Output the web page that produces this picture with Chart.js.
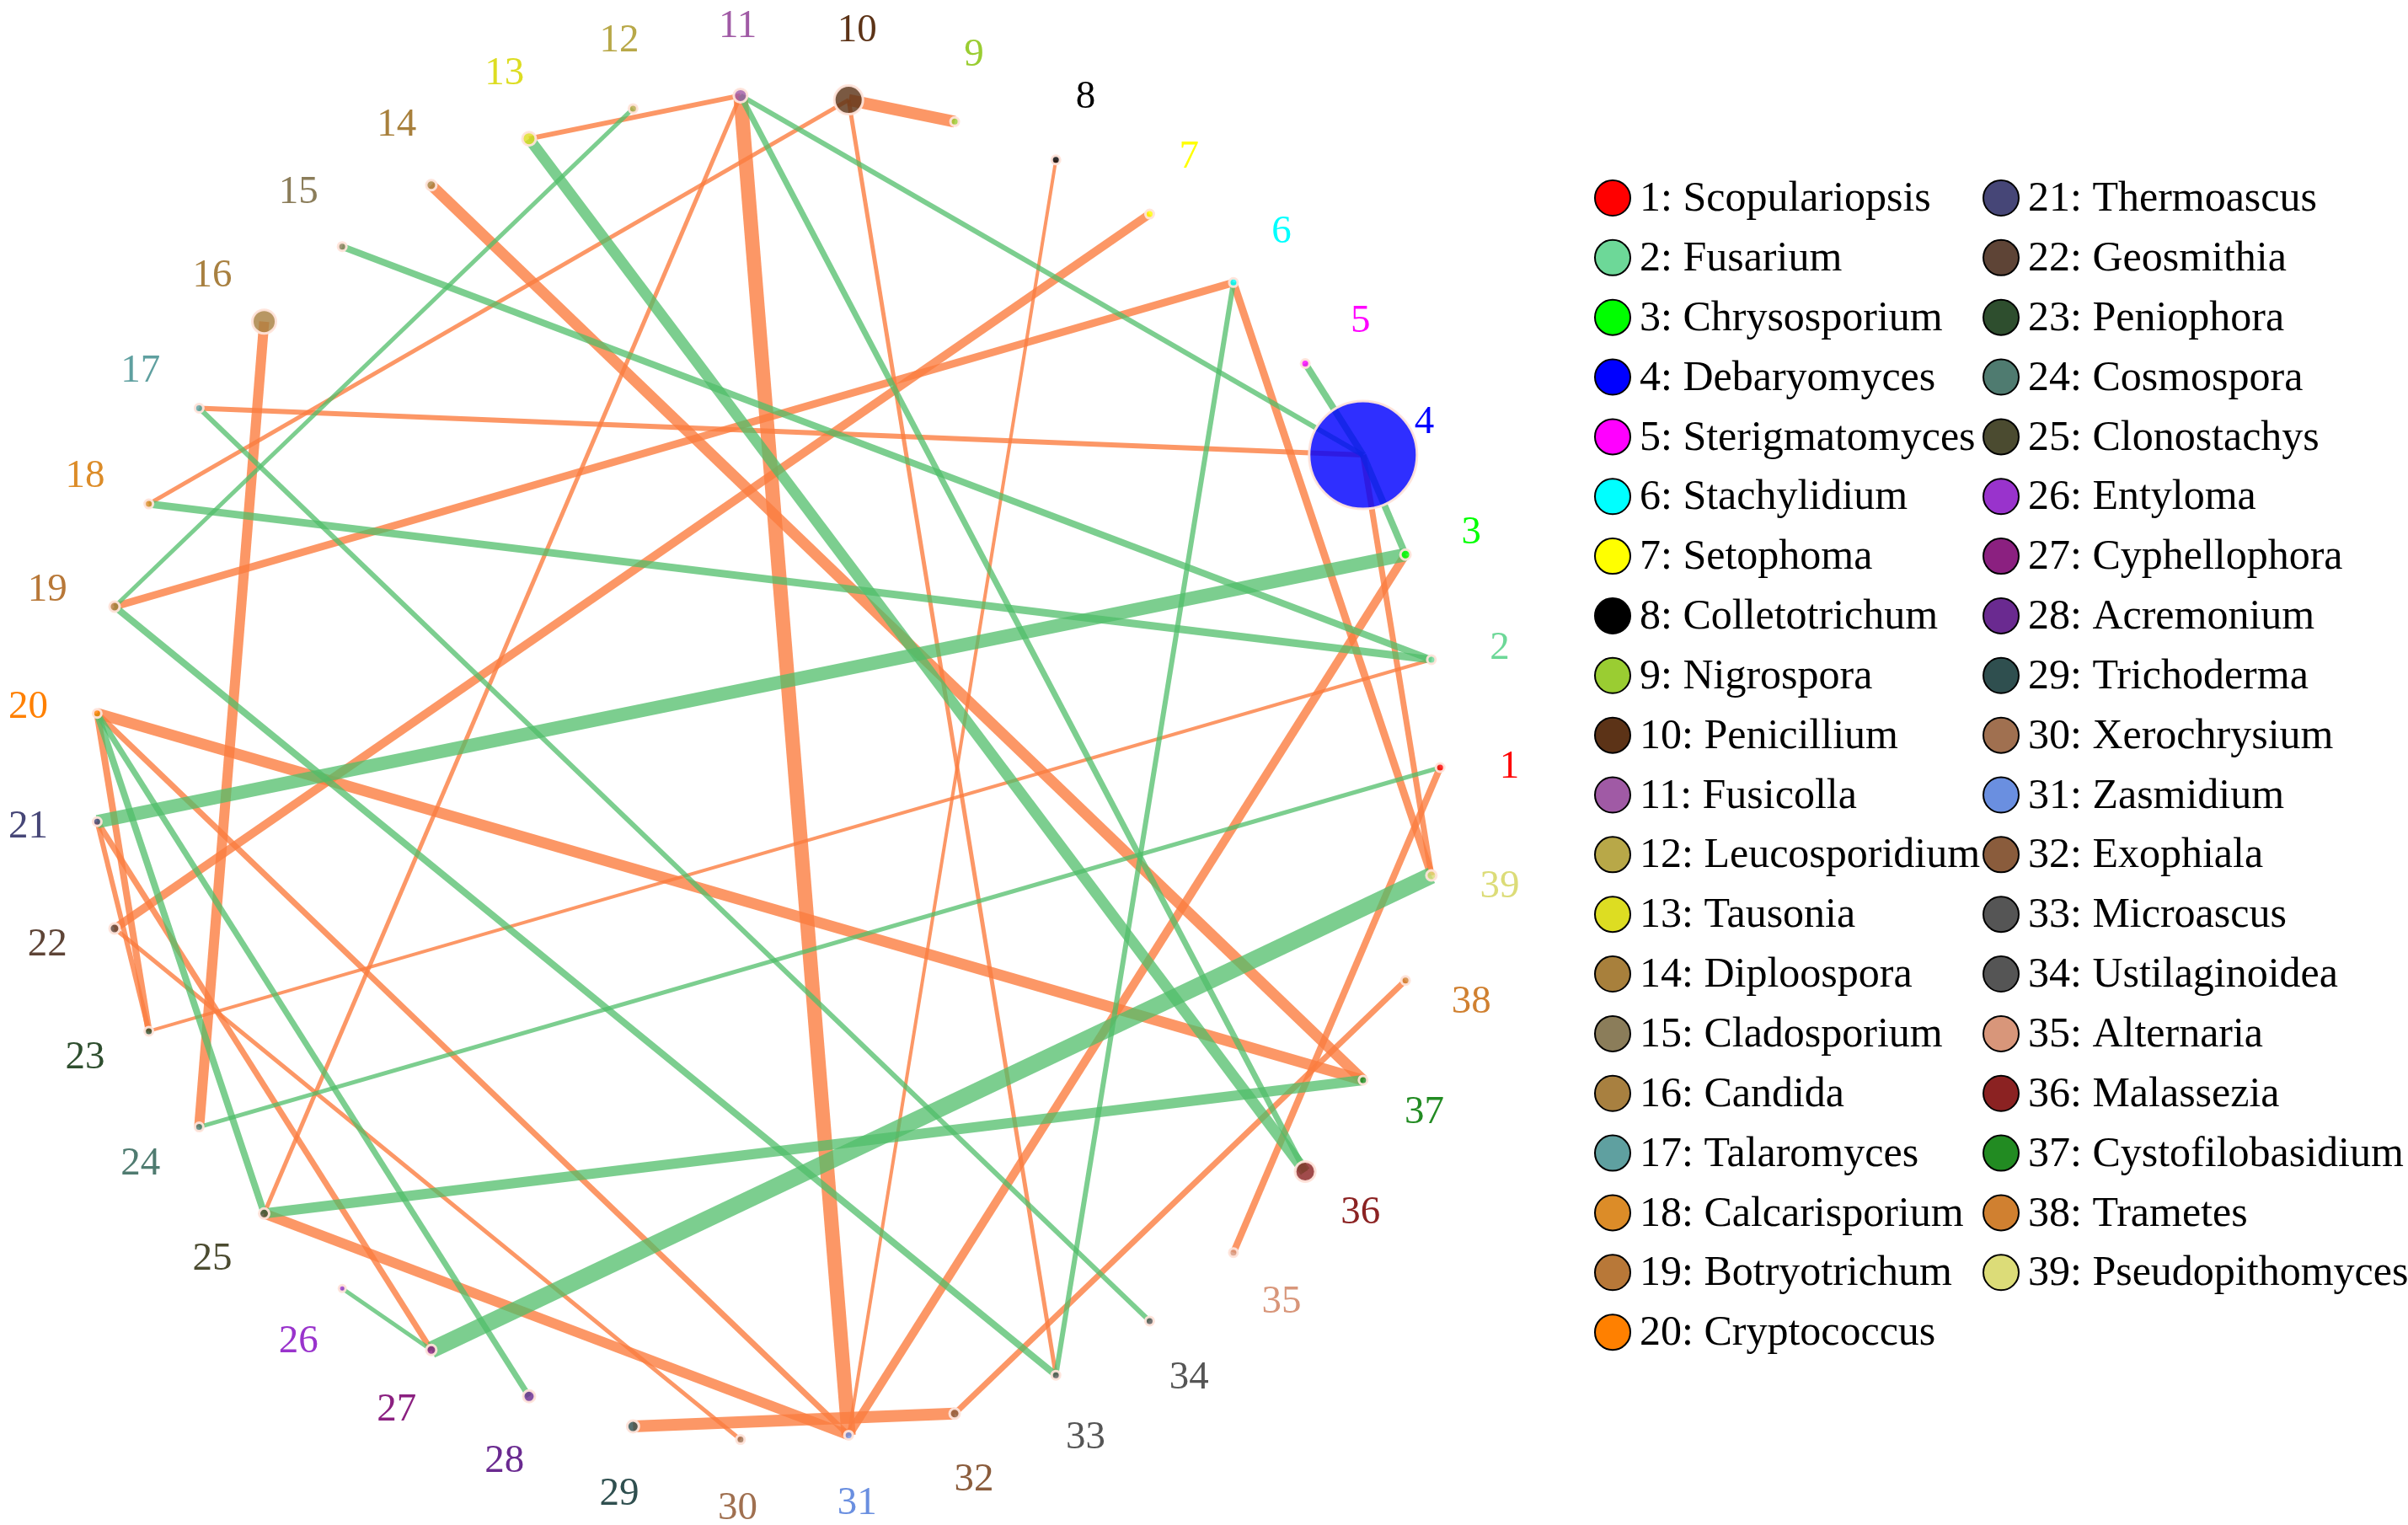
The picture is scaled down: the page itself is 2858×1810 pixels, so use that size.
<!DOCTYPE html>
<html>
<head>
<meta charset="utf-8">
<title>Co-occurrence network</title>
<script src="https://cdn.jsdelivr.net/npm/chart.js@4.4.1/dist/chart.umd.min.js"></script>
<style>
  html, body { margin: 0; padding: 0; background: #fff; }
  #wrap { width: 2858px; height: 1810px; position: relative; }
</style>
</head>
<body>
<div id="wrap"><canvas id="net"></canvas></div>
<script>
// genera, in node order (node k = taxa[k-1])
const taxa = [
  'Scopulariopsis', 'Fusarium', 'Chrysosporium', 'Debaryomyces', 'Sterigmatomyces',
  'Stachylidium', 'Setophoma', 'Colletotrichum', 'Nigrospora', 'Penicillium',
  'Fusicolla', 'Leucosporidium', 'Tausonia', 'Diploospora', 'Cladosporium',
  'Candida', 'Talaromyces', 'Calcarisporium', 'Botryotrichum', 'Cryptococcus',
  'Thermoascus', 'Geosmithia', 'Peniophora', 'Cosmospora', 'Clonostachys',
  'Entyloma', 'Cyphellophora', 'Acremonium', 'Trichoderma', 'Xerochrysium',
  'Zasmidium', 'Exophiala', 'Microascus', 'Ustilaginoidea', 'Alternaria',
  'Malassezia', 'Cystofilobasidium', 'Trametes', 'Pseudopithomyces'
];

const nodeColors = [
  '#FF0000', '#6DD898', '#00FF00', '#0000FF', '#FF00FF',
  '#00FFFF', '#FFFF00', '#000000', '#9ACD32', '#5C3317',
  '#A05AA5', '#B8A848', '#DDDD22', '#A8803C', '#8B7D5A',
  '#A88040', '#5FA0A0', '#DC8C28', '#B87838', '#FF8000',
  '#464677', '#5E4436', '#2E4E2E', '#4F7B70', '#4B4B30',
  '#9933CC', '#8B2080', '#6A2A90', '#2F4F4F', '#A07050',
  '#6A8FE0', '#8A5C3C', '#555555', '#555555', '#D8967A',
  '#8B2222', '#228B22', '#D08030', '#DCDC78'
];

// node size (abundance), bubble radius in px
const nodeSize = [
  5, 5, 6, 64, 5, 5, 5, 5, 5, 17,
  8, 5, 8, 6, 5, 14, 5, 5, 6, 5,
  5, 6, 5, 5, 6, 4, 6, 7, 7, 5,
  5, 6, 5, 5, 5, 12, 5, 5, 6
];

// correlations: endpoints, strength (line width) and sign
const edgeFrom = [4, 4, 4, 15, 18, 21, 24, 11, 13, 12, 19, 17, 6, 20, 20, 25, 26, 27,
                  9, 11, 11, 11, 10, 10, 8, 14, 16, 17, 19, 22, 20, 20, 20, 21, 21, 22, 23, 25, 29, 3, 32, 1, 6, 4];
const edgeTo   = [5, 3, 11, 2, 2, 3, 1, 36, 36, 19, 33, 34, 33, 25, 28, 37, 27, 39,
                  10, 13, 31, 25, 18, 33, 31, 37, 24, 4, 6, 7, 37, 31, 23, 23, 27, 30, 2, 31, 32, 31, 38, 35, 39, 39];
const edgeWeight = [8, 8, 6, 8, 9, 16, 5, 7, 13, 5, 8, 6, 6, 8, 7, 12, 5, 20,
                    14, 6, 17, 5, 5, 5, 4, 13, 12, 6, 9, 10, 13, 7, 8, 6, 7, 5, 4, 12, 14, 10, 7, 8, 9, 7];
const edgeSign = [-1, -1, -1, -1, -1, -1, -1, -1, -1, -1, -1, -1, -1, -1, -1, -1, -1, -1,
                  1, 1, 1, 1, 1, 1, 1, 1, 1, 1, 1, 1, 1, 1, 1, 1, 1, 1, 1, 1, 1, 1, 1, 1, 1, 1];

const POS_COLOR = 'rgba(251,125,64,0.8)';
const NEG_COLOR = 'rgba(80,190,105,0.75)';
const LABEL_R = 1.103;

const angleOf = i => (i * 2 * Math.PI) / taxa.length;
const nodePos = taxa.map((_, i) => ({ x: Math.cos(angleOf(i)), y: Math.sin(angleOf(i)) }));

const edgeSets = edgeFrom.map((a, i) => ({
  type: 'scatter',
  showLine: true,
  data: [nodePos[a - 1], nodePos[edgeTo[i] - 1]],
  borderColor: edgeSign[i] > 0 ? POS_COLOR : NEG_COLOR,
  borderWidth: edgeWeight[i],
  pointRadius: 0,
  pointHoverRadius: 0,
  clip: false,
  order: 1
}));

const nodeSet = {
  type: 'bubble',
  data: nodePos.map((p, i) => ({ x: p.x, y: p.y, r: nodeSize[i] })),
  backgroundColor: nodeColors.map(c => c + 'D0'),
  borderColor: 'rgba(255,228,218,0.95)',
  borderWidth: 3,
  clip: false,
  order: 0
};

const nodeLabels = {
  id: 'nodeLabels',
  afterDatasetsDraw(chart) {
    const { ctx, scales: { x, y } } = chart;
    ctx.save();
    ctx.font = '47px "Liberation Serif", "Times New Roman", serif';
    ctx.textAlign = 'center';
    ctx.textBaseline = 'middle';
    taxa.forEach((_, i) => {
      const a = angleOf(i);
      ctx.fillStyle = nodeColors[i];
      ctx.fillText(String(i + 1), x.getPixelForValue(LABEL_R * Math.cos(a)), y.getPixelForValue(LABEL_R * Math.sin(a)));
    });
    ctx.restore();
  }
};

// two-column legend on the right
const sideLegend = {
  id: 'sideLegend',
  afterDraw(chart) {
    const ctx = chart.ctx;
    ctx.save();
    ctx.font = '50px "Liberation Serif", "Times New Roman", serif';
    ctx.textAlign = 'left';
    ctx.textBaseline = 'middle';
    taxa.forEach((name, i) => {
      const col = i < 20 ? 0 : 1;
      const row = col ? i - 20 : i;
      const cx = col ? 2375 : 1914;
      const cy = 235 + row * 70.85;
      ctx.beginPath();
      ctx.arc(cx, cy, 21, 0, Math.PI * 2);
      ctx.fillStyle = nodeColors[i];
      ctx.fill();
      ctx.lineWidth = 2;
      ctx.strokeStyle = '#000';
      ctx.stroke();
      ctx.fillStyle = '#000';
      ctx.fillText(`${i + 1}: ${name}`, cx + 32, cy + 2);
    });
    ctx.restore();
  }
};

new Chart(document.getElementById('net'), {
  type: 'scatter',
  data: { datasets: [nodeSet, ...edgeSets] },
  options: {
    responsive: true,
    maintainAspectRatio: false,
    animation: false,
    layout: { autoPadding: false, padding: { left: 13, top: 13, right: 1049, bottom: 1 } },
    scales: {
      x: { type: 'linear', min: -1.125, max: 1.125, display: false },
      y: { type: 'linear', min: -1.125, max: 1.125, display: false }
    },
    plugins: {
      legend: { display: false },
      tooltip: { enabled: false }
    }
  },
  plugins: [nodeLabels, sideLegend]
});
</script>
</body>
</html>
